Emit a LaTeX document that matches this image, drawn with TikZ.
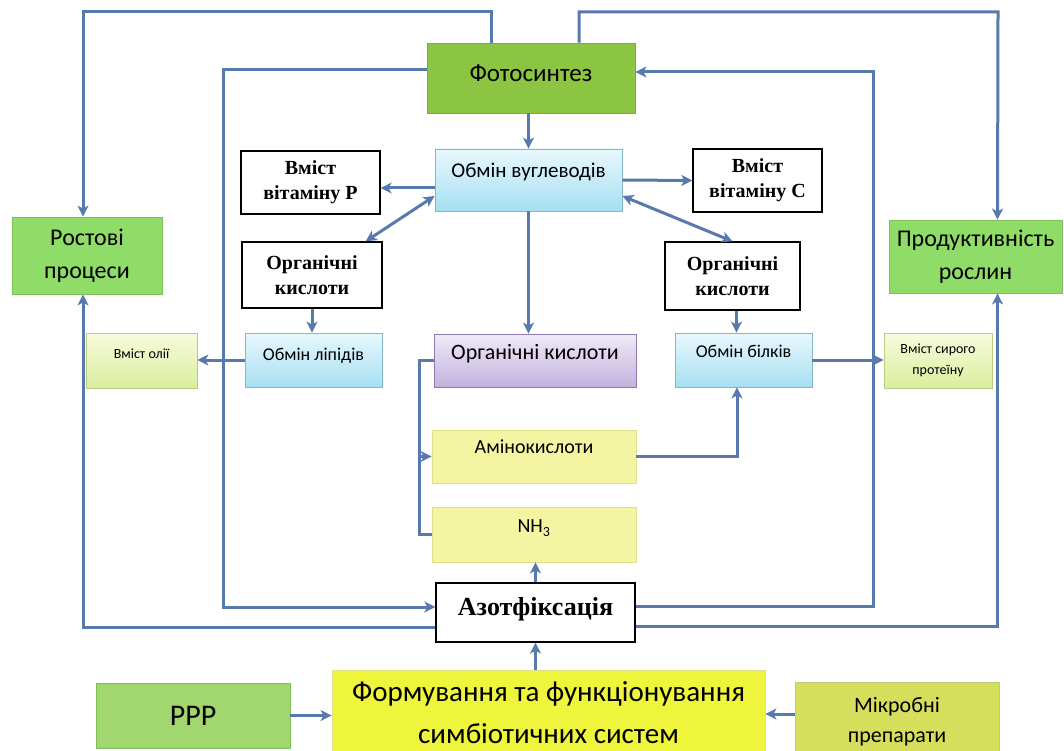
\documentclass[tikz,border=0pt]{standalone}
\usepackage{fontspec}
\setmainfont{Carlito}
\newfontfamily\tnr{Liberation Serif}
\usetikzlibrary{arrows.meta}
\definecolor{linkblue}{HTML}{5879AE}
\definecolor{fotogreen}{HTML}{8CC541}
\definecolor{fotoedge}{HTML}{7AAE3A}
\definecolor{rostgreen}{HTML}{8FDC69}
\definecolor{rostedge}{HTML}{7DBF5C}
\definecolor{pppgreen}{HTML}{A2D66F}
\definecolor{mikryellow}{HTML}{D5DF5B}
\definecolor{formyellow}{HTML}{EFF43C}
\definecolor{paleyellow}{HTML}{F3F5A2}
\definecolor{paleedge}{HTML}{E0E08A}
\definecolor{bluetop}{HTML}{E8F8FD}
\definecolor{bluebot}{HTML}{A6DFF2}
\definecolor{blueedge}{HTML}{86B6CC}
\definecolor{acidtop}{HTML}{F0EAF7}
\definecolor{acidbot}{HTML}{C3B2DF}
\definecolor{acidedge}{HTML}{8C7BB0}
\definecolor{valtop}{HTML}{F7FBDC}
\definecolor{valbot}{HTML}{DAEE9E}
\definecolor{valedge}{HTML}{B9CC86}
\newcommand{\fsz}[2]{\fontsize{#1}{#2}\selectfont}

\begin{document}
\begin{tikzpicture}[x=1pt, y=-1pt,
  >={Stealth[length=11pt,width=11pt,inset=3pt]},
  link/.style={draw=linkblue, line width=3},
  box/.style={rectangle, inner sep=2, align=center, line width=0.8},
  fotobox/.style={box, fill=fotogreen, draw=fotoedge, font=\fsz{25}{30}},
  growbox/.style={box, fill=rostgreen, draw=rostedge, font=\fsz{24}{33}},
  wbox/.style={box, fill=white, draw=black, line width=1.3, font=\tnr\bfseries\fsz{20}{25}},
  exbox/.style={box, top color=bluetop, bottom color=bluebot, draw=blueedge, font=\fsz{18}{22}},
  acidbox/.style={box, top color=acidtop, bottom color=acidbot, draw=acidedge, font=\fsz{22}{26}},
  ybox/.style={box, fill=paleyellow, draw=paleedge, font=\fsz{20}{24}},
  valbox/.style={box, top color=valtop, bottom color=valbot, draw=valedge, font=\fsz{14}{21}}]
\clip (0,0) rectangle (1064,751);

% routing corners
\coordinate (topL) at (83,12);
\coordinate (topR) at (998,12);
\coordinate (innL) at (223,70);
\coordinate (innR) at (873,72);

\node[fotobox, minimum width=208, minimum height=70, text depth=10] (foto) at (531,78) {Фотосинтез};
\node[growbox, minimum width=150, minimum height=77] (rost) at (87,255.5) {Ростові\\процеси};
\node[growbox, minimum width=173, minimum height=73] (prod) at (975.5,256.5) {Продуктивність\\рослин};

\node[exbox, font=\fsz{21}{24}, minimum width=187, minimum height=62, text depth=20] (vugl) at (528.5,180) {Обмін вуглеводів};
\node[wbox, minimum width=139, minimum height=63] (pR) at (310.5,182.5) {Вміст\\вітаміну Р};
\node[wbox, minimum width=129, minimum height=63] (pC) at (757.5,180.5) {Вміст\\вітаміну С};
\node[wbox, minimum width=140, minimum height=66] (orgL) at (312,275) {Органічні\\кислоти};
\node[wbox, minimum width=135, minimum height=68] (orgR) at (732.5,276) {Органічні\\кислоти};

\node[exbox, minimum width=137, minimum height=54, text depth=12] (lip) at (313.5,360) {Обмін ліпідів};
\node[valbox, minimum width=111, minimum height=55, text depth=14] (oil) at (141.5,360.5) {Вміст олії};
\node[acidbox, minimum width=202, minimum height=53, text depth=17] (purp) at (535,360.5) {Органічні кислоти};
\node[exbox, minimum width=137, minimum height=54, text depth=18] (bilk) at (743.5,360) {Обмін білків};
\node[valbox, minimum width=108, minimum height=55] (prot) at (938,360.5) {Вміст сирого\\протеїну};

\node[ybox, minimum width=204, minimum height=53, text depth=19] (amino) at (534,456.5) {Амінокислоти};
\node[ybox, minimum width=204, minimum height=55, text depth=16] (nh3) at (534,534.5) {NH\textsubscript{3}};
\node[wbox, font=\tnr\bfseries\fsz{26}{30}, minimum width=199, minimum height=59, text depth=12] (azot) at (535.5,612.5) {Азотфіксація};

\node[box, fill=formyellow, draw=paleedge, font=\fsz{29}{42}, minimum width=433, minimum height=86] (form) at (548.5,713) {Формування та функціонування\\симбіотичних систем};
\node[box, fill=pppgreen, draw=rostedge, font=\fsz{30}{34}, minimum width=194, minimum height=65] (ppp) at (193,715.5) {РРР};
\node[box, fill=mikryellow, draw=valedge, font=\fsz{22}{30}, minimum width=204, minimum height=80] (mikr) at (897,722) {Мікробні\\препарати};

% outer loops
\draw[->, link] ([xshift=-40]foto.north) |- (topL) -- ([xshift=-4]rost.north);
\draw[->, link] ([xshift=48]foto.north) |- (topR) -- ([xshift=22]prod.north);
\draw[->, link] ([yshift=8]foto.west) -- (innL) |- ([yshift=5.5]azot.west);
\draw[->, link] ([yshift=6.5]azot.east) -| (innR) -- ([yshift=6]foto.east);
\draw[->, link] ([yshift=-14.5]azot.west) -| ([xshift=-4]rost.south);
\draw[->, link] ([yshift=-13.5]azot.east) -| ([xshift=22]prod.south);

% carbohydrate exchange
\draw[->, link] (foto.south -| vugl.north) -- (vugl.north);
\draw[->, link] ([yshift=-8]vugl.west) -- ([yshift=-5.5]pR.east);
\draw[->, link] (vugl.east) -- (pC.west);
\draw[<->, link] ([xshift=-17]orgL.north east) -- ([yshift=-16]vugl.west);
\draw[<->, link] ([yshift=-16]vugl.east) -- (orgR.north);
\draw[->, link] (orgL.south) -- (orgL.south |- lip.north);
\draw[->, link] ([xshift=4]orgR.south) -- ([xshift=-7]bilk.north);
\draw[->, link] (vugl.south) -- (vugl.south |- purp.north);
\draw[->, link] (lip.west) -- (lip.west -| oil.east);
\draw[->, link] (bilk.east) -- (bilk.east -| prot.west);

% nitrogen
\draw[link] (purp.west) -- ++(-14,0) |- (nh3.west);
\draw[->, link] ([xshift=-12]amino.west) -- (amino.west);
\draw[->, link] (amino.east) -| ([xshift=-6.5]bilk.south);
\draw[->, link] (azot.north) -- (azot.north |- nh3.south);
\draw[->, link] (azot.south |- form.north) -- (azot.south);
\draw[->, link] (ppp.east) -- (ppp.east -| form.west);
\draw[->, link] ([yshift=8]mikr.west) -- ([yshift=-1]form.east);
\end{tikzpicture}
\end{document}
